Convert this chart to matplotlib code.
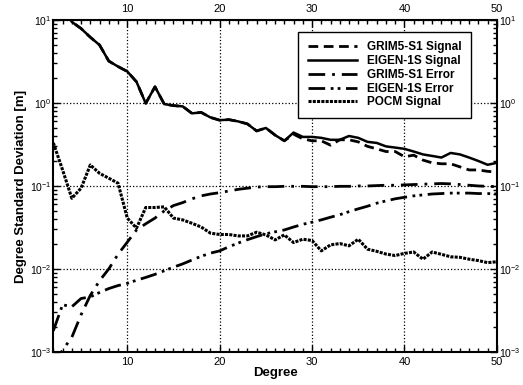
import numpy as np
import matplotlib
matplotlib.use('Agg')
import matplotlib.pyplot as plt
from matplotlib.ticker import MultipleLocator, LogLocator, NullFormatter, FixedLocator

plt.rcParams['font.family'] = ['Liberation Sans', 'DejaVu Sans']

degree = list(range(2, 51))

eigen_signal = [25, 14, 9.5, 7.9, 6.2, 5.0, 3.2, 2.75, 2.4, 1.8, 0.99, 1.57, 0.97, 0.93,
                0.91, 0.75, 0.77, 0.67, 0.62, 0.63, 0.60, 0.56, 0.46, 0.50, 0.41, 0.35,
                0.44, 0.39, 0.39, 0.38, 0.36, 0.36, 0.40, 0.38, 0.34, 0.33, 0.30, 0.29,
                0.28, 0.26, 0.24, 0.23, 0.22, 0.25, 0.24, 0.22, 0.20, 0.18, 0.19]

grim_signal = [25, 14, 9.5, 7.9, 6.2, 5.0, 3.2, 2.75, 2.4, 1.8, 0.99, 1.57, 0.97, 0.93,
               0.91, 0.75, 0.77, 0.67, 0.62, 0.63, 0.60, 0.56, 0.46, 0.50, 0.41, 0.35,
               0.42, 0.37, 0.35, 0.35, 0.31, 0.36, 0.36, 0.34, 0.30, 0.28, 0.26, 0.26,
               0.225, 0.235, 0.205, 0.19, 0.185, 0.185, 0.17, 0.156, 0.156, 0.15, 0.147]

grim_error = [0.0007, 0.00105, 0.0015, 0.0028, 0.0048, 0.0072, 0.0100, 0.0150, 0.021, 0.0295,
              0.035, 0.041, 0.05, 0.058, 0.063, 0.07, 0.076, 0.08, 0.083, 0.087, 0.091,
              0.094, 0.097, 0.098, 0.098, 0.099, 0.099, 0.099, 0.098, 0.098, 0.098, 0.099,
              0.099, 0.1, 0.1, 0.101, 0.102, 0.102, 0.103, 0.104, 0.105, 0.106, 0.107,
              0.106, 0.104, 0.102, 0.1, 0.099, 0.098]

eigen_error = [0.0018, 0.0037, 0.0035, 0.0044, 0.0046, 0.0052, 0.0058, 0.0063, 0.0067,
               0.0073, 0.0079, 0.0086, 0.0095, 0.0105, 0.0115, 0.0128, 0.0142, 0.0155,
               0.0165, 0.0185, 0.0205, 0.0225, 0.0245, 0.0265, 0.028, 0.0295, 0.032,
               0.0345, 0.0366, 0.039, 0.042, 0.045, 0.049, 0.053, 0.057, 0.062, 0.066,
               0.070, 0.073, 0.076, 0.078, 0.080, 0.081, 0.082, 0.082, 0.082, 0.081,
               0.081, 0.080]

pocm_signal = [0.33, 0.156, 0.071, 0.094, 0.179, 0.142, 0.124, 0.108, 0.041, 0.031, 0.055,
               0.055, 0.056, 0.041, 0.039, 0.0355, 0.032, 0.027, 0.026, 0.026, 0.025,
               0.025, 0.0277, 0.0257, 0.0224, 0.0257, 0.0208, 0.0228, 0.022, 0.0165,
               0.0195, 0.0202, 0.019, 0.0228, 0.0173, 0.0163, 0.0151, 0.0145, 0.0154,
               0.016, 0.0131, 0.016, 0.015, 0.014, 0.0138, 0.0131, 0.0126, 0.0119, 0.0122]

fig = plt.figure(figsize=(5.23, 3.85), dpi=100)
ax = fig.add_axes([0.102, 0.086, 0.848, 0.862])

ax.plot(degree, grim_signal, color='black', lw=2.0, ls=(0, (3.5, 2.0)), label='GRIM5-S1 Signal')
ax.plot(degree, eigen_signal, color='black', lw=1.8, ls='-', label='EIGEN-1S Signal')
ax.plot(degree, grim_error, color='black', lw=2.0, ls=(0, (6, 2.5, 1, 2.5)), label='GRIM5-S1 Error')
ax.plot(degree, eigen_error, color='black', lw=2.0, ls=(0, (6, 2, 1, 1.5, 1, 2)), label='EIGEN-1S Error')
ax.plot(degree, pocm_signal, color='black', lw=2.2, ls=(0, (1, 0.4)), label='POCM Signal')

ax.set_yscale('log')
ax.set_xlim(2, 50)
ax.set_ylim(1e-3, 1e1)

ax.xaxis.set_major_locator(FixedLocator([10, 20, 30, 40, 50]))
ax.xaxis.set_minor_locator(MultipleLocator(1))
ax.yaxis.set_major_locator(LogLocator(base=10, numticks=10))
ax.yaxis.set_minor_locator(LogLocator(base=10, subs=np.arange(2, 10), numticks=20))
ax.yaxis.set_minor_formatter(NullFormatter())

ax.tick_params(which='both', direction='in', top=True, right=True,
               labeltop=True, labelright=True)
ax.tick_params(which='major', length=5, width=1)
ax.tick_params(which='minor', length=3, width=1)
ax.tick_params(axis='x', which='major', labelsize=8, pad=4)
ax.tick_params(axis='y', which='major', labelsize=7.5, pad=1.5)

ax.grid(True, which='major', ls=':', color='black', lw=0.9)
for s in ax.spines.values():
    s.set_linewidth(1.5)

ax.set_xlabel('Degree', fontsize=9.5, fontweight='bold', labelpad=0)
ax.set_ylabel('Degree Standard Deviation [m]', fontsize=9.5, fontweight='bold', labelpad=2)

leg = ax.legend(loc='upper right', bbox_to_anchor=(0.955, 0.982),
                prop={'weight': 'bold', 'size': 8.5}, handlelength=4.2,
                labelspacing=0.15, fancybox=False, framealpha=1, edgecolor='black',
                borderpad=0.8)
leg.get_frame().set_linewidth(1.0)

plt.savefig('out.png', dpi=100)
